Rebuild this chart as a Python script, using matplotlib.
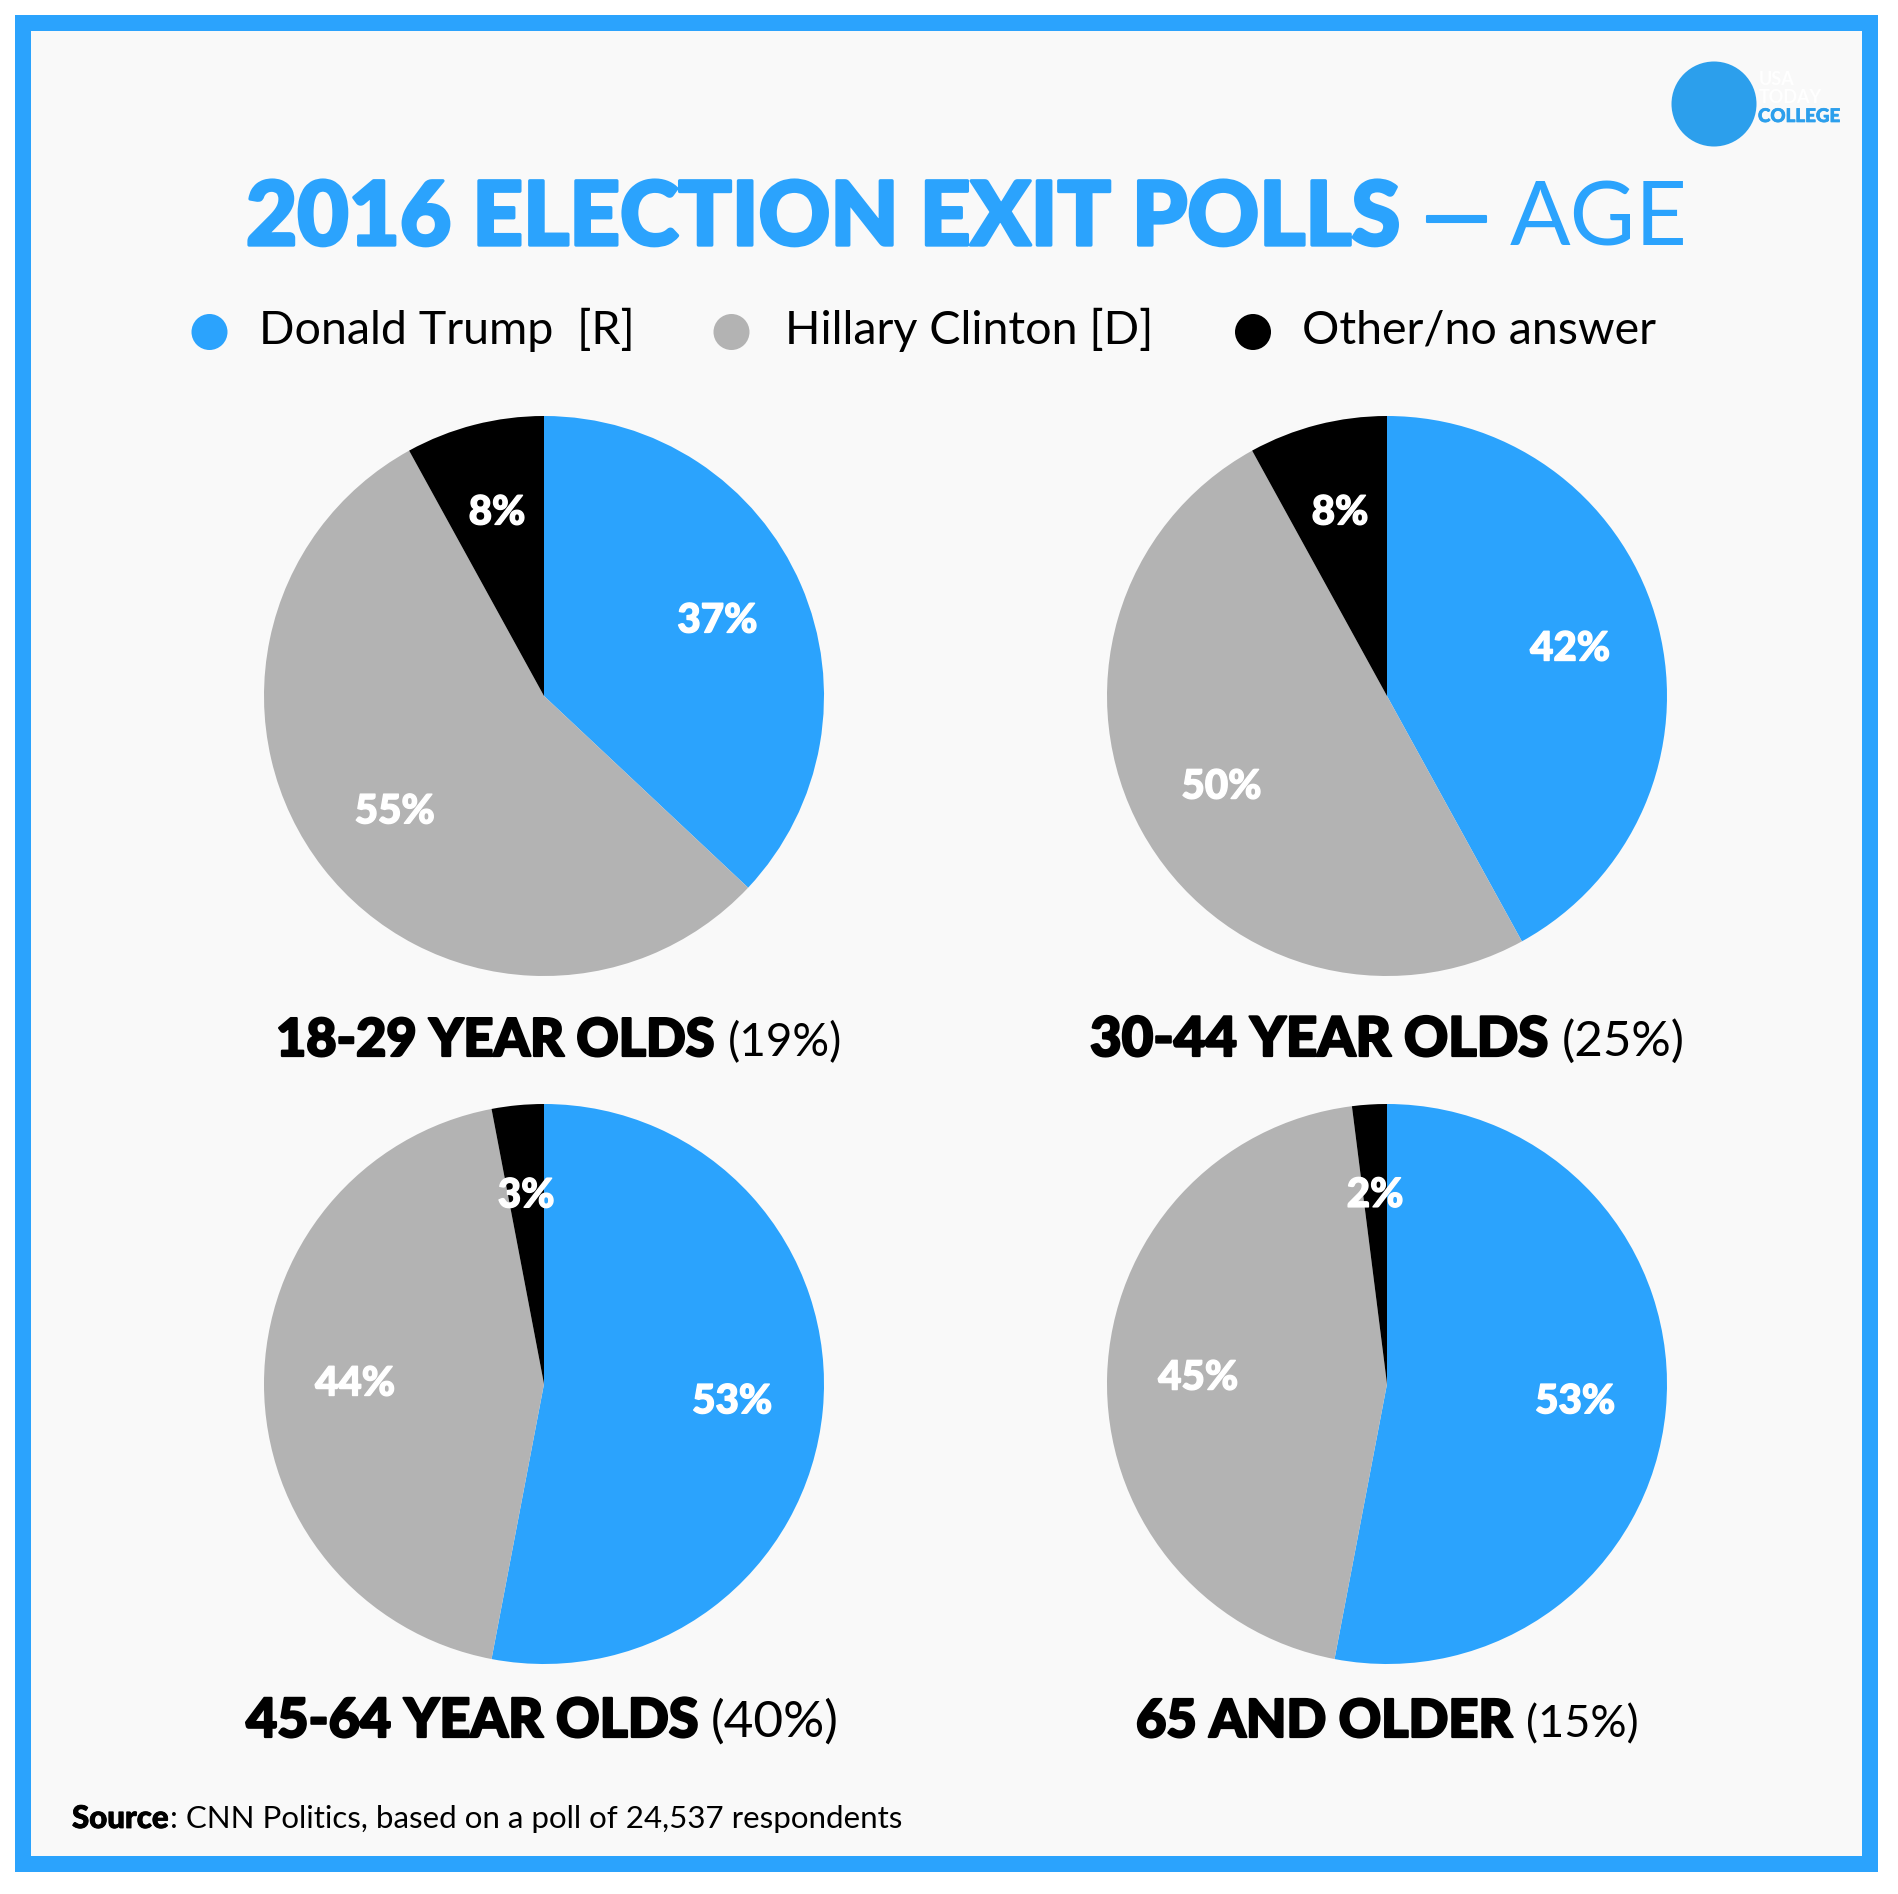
import matplotlib
matplotlib.use("Agg")
import matplotlib.pyplot as plt
import matplotlib.patheffects as pe
from matplotlib.patches import Circle, Rectangle

W, H = 1899, 1894

BLUE = "#2ba3fd"
LOGO_BLUE = "#2c9fec"
GREY = "#b3b3b3"
BLACK = "#000000"
BG = "#f9f9f9"

candidates = ["Donald Trump  [R]", "Hillary Clinton [D]", "Other/no answer"]
age_groups = ["18-29 YEAR OLDS", "30-44 YEAR OLDS", "45-64 YEAR OLDS", "65 AND OLDER"]
group_shares = ["(19%)", "(25%)", "(40%)", "(15%)"]
trump = [37, 42, 53, 53]
clinton = [55, 50, 44, 45]
other = [8, 8, 3, 2]

FONT = "Lato"

fig = plt.figure(figsize=(W / 100, H / 100), dpi=100, facecolor="white")


def px_text(x, y, s, stroke=0, **kw):
    # x, y in image pixels from top left, y is the baseline
    t = fig.text(x / W, 1 - y / H, s, family=FONT, va="baseline", **kw)
    if stroke:
        # thicken, the heaviest installed weight is lighter than the original
        t.set_path_effects([pe.withStroke(linewidth=stroke, foreground=kw["color"])])
    return t


def run_text(x, y, parts):
    # lay out text pieces of different weight one after another
    r = fig.canvas.get_renderer()
    for s, size, weight, color, stroke, gap in parts:
        t = px_text(x, y, s, stroke=stroke, fontsize=size, fontweight=weight, color=color)
        x = t.get_window_extent(r).x1 + gap


# background and frame
bg = fig.add_axes([0, 0, 1, 1])
bg.set_xlim(0, W)
bg.set_ylim(H, 0)
bg.axis("off")
bg.add_patch(Rectangle((23, 23), 1847, 1841, fc=BG, ec=BLUE, lw=16 * 0.72))

# logo
bg.add_patch(Circle((1714, 104), 42.5, fc=LOGO_BLUE, ec="none"))
px_text(1759, 85, "USA", fontsize=13, fontweight="bold", color="#ffffff")
px_text(1759, 103, "TODAY", fontsize=13, fontweight="bold", color="#ffffff")
px_text(1758, 122, "COLLEGE", stroke=0.5, fontsize=13.5, fontweight="black", color=LOGO_BLUE)

# title
run_text(246, 245, [
    ("2016 ELECTION EXIT POLLS", 63.7, "black", BLUE, 2.4, 20),
    ("\u2014", 63.7, "normal", BLUE, 1.5, 18),
    ("AGE", 64.5, "normal", BLUE, 0, 0),
])

# legend
for name, color, dot_x, text_x in zip(candidates, [BLUE, GREY, BLACK], [209.5, 731.5, 1253], [259, 785, 1302]):
    bg.add_patch(Circle((dot_x, 332), 18, fc=color, ec="none"))
    px_text(text_x, 344, name, fontsize=33.6, color="black")

# pies
centers = [(544, 696), (1387, 696), (544, 1384), (1387, 1384)]
radius = 280
title_pos = [(276, 1056), (1090, 1056), (246, 1737), (1136, 1737)]
# per panel sizes, Lato digits are wider or narrower than the original face
title_sizes = [37.6, 39.3, 38.8, 37.7]
share_sizes = [33, 35.5, 37, 32.5]
for i, (cx, cy) in enumerate(centers):
    ax = fig.add_axes([(cx - radius) / W, 1 - (cy + radius) / H, 2 * radius / W, 2 * radius / H])
    _, _, autotexts = ax.pie(
        [trump[i], clinton[i], other[i]],
        colors=[BLUE, GREY, BLACK],
        startangle=90,
        counterclock=False,
        radius=1,
        autopct="%.0f%%",
        pctdistance=0.675,
    )
    ax.set_xlim(-1, 1)
    ax.set_ylim(-1, 1)
    for t in autotexts:
        t.set(color="white", fontsize=29, fontweight="black", family=FONT)
        t.set_path_effects([pe.withStroke(linewidth=1.0, foreground="white")])

    tx, ty = title_pos[i]
    run_text(tx, ty, [
        (age_groups[i], title_sizes[i], "black", "black", 1.6, 13),
        (group_shares[i], share_sizes[i], "normal", "black", 0, 0),
    ])

# source
run_text(72, 1828, [
    ("Source", 22.5, "black", "black", 0.6, 1),
    (": CNN Politics, based on a poll of 24,537 respondents", 22.5, "normal", "black", 0, 0),
])

fig.savefig("out.png", dpi=100, facecolor="white")
